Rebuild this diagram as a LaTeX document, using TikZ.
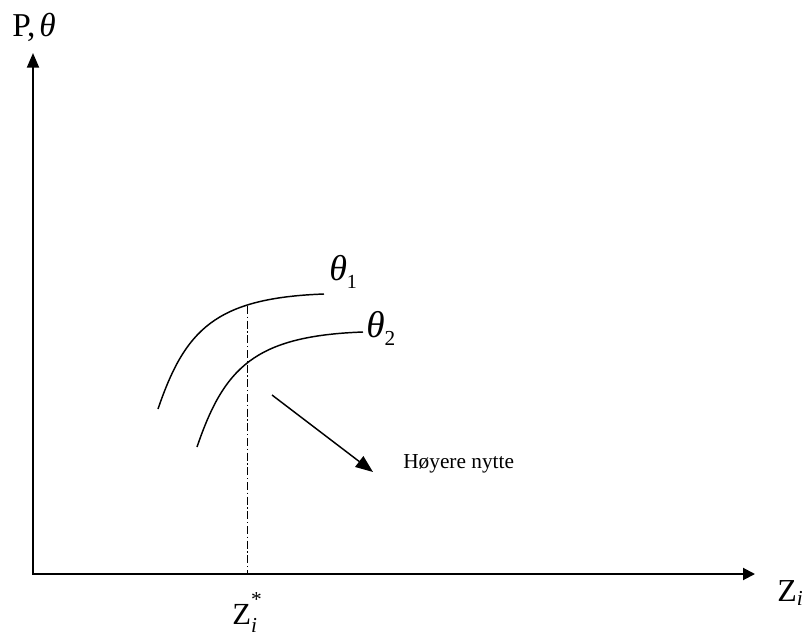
\documentclass[tikz,border=0pt]{standalone}
\usepackage{fontspec}
\setmainfont{Liberation Serif}
\usetikzlibrary{arrows.meta}
\begin{document}
\begin{tikzpicture}[x=0.75pt,y=-0.75pt,
  axisline/.style={line width=1.5pt,{Triangle[length=11pt,width=9pt]}-{Triangle[length=9pt,width=9pt]}},
  curveline/.style={line width=1.1pt},
  guide/.style={line width=0.75pt,dash pattern=on 6pt off 2pt on 1pt off 2pt},
  pointer/.style={line width=1.1pt,-{Triangle[length=13pt,width=10pt]}},
  lbl/.style={inner sep=0pt,anchor=base west}]
\useasboundingbox (0,0) rectangle (808,636);
\coordinate (O) at (33,574);
\coordinate (ytip) at (33,53);
\coordinate (xtip) at (755,574);
\draw[axisline,line join=miter] (ytip) -- (O) -- (xtip);

\node[lbl] (plabel) at (12,36) {\fontsize{25}{25}\selectfont P,\kern3pt\textit{θ}};
\node[lbl] (zlabel) at (777,601) {\fontsize{24}{24}\selectfont Z\raisebox{-3pt}{\fontsize{16}{16}\selectfont\itshape i}};

\coordinate (c1a) at (158,409);
\coordinate (c1b) at (324,294);
\coordinate (c2a) at (197,447);
\coordinate (c2b) at (363,332);
\draw[curveline] (c1a) .. controls (185,330) and (215,298) .. (c1b);
\draw[curveline] (c2a) .. controls (224,368) and (254,336) .. (c2b);

\coordinate (gtop) at (247,306);
\coordinate (gbot) at (247,574);
\draw[guide] (gtop) -- (gbot);

\node[lbl] (t1) at (329,280) {\fontsize{27}{27}\selectfont\textit{θ}\raisebox{-6.5pt}{\fontsize{15}{15}\selectfont 1}};
\node[lbl] (t2) at (366,337) {\fontsize{28}{28}\selectfont\textit{θ}\raisebox{-6.5pt}{\fontsize{16}{16}\selectfont 2}};

\node[lbl] (zstar) at (232,624) {\fontsize{23}{23}\selectfont Z\rlap{\raisebox{-6pt}{\fontsize{16}{16}\selectfont\itshape i}}\raisebox{13pt}{\fontsize{16}{16}\selectfont *}};

\coordinate (pa) at (272,395);
\coordinate (pb) at (373,472);
\draw[pointer] (pa) -- (pb);
\node[lbl] (nytte) at (403,468) {\fontsize{16}{16}\selectfont Høyere nytte};
\end{tikzpicture}
\end{document}
